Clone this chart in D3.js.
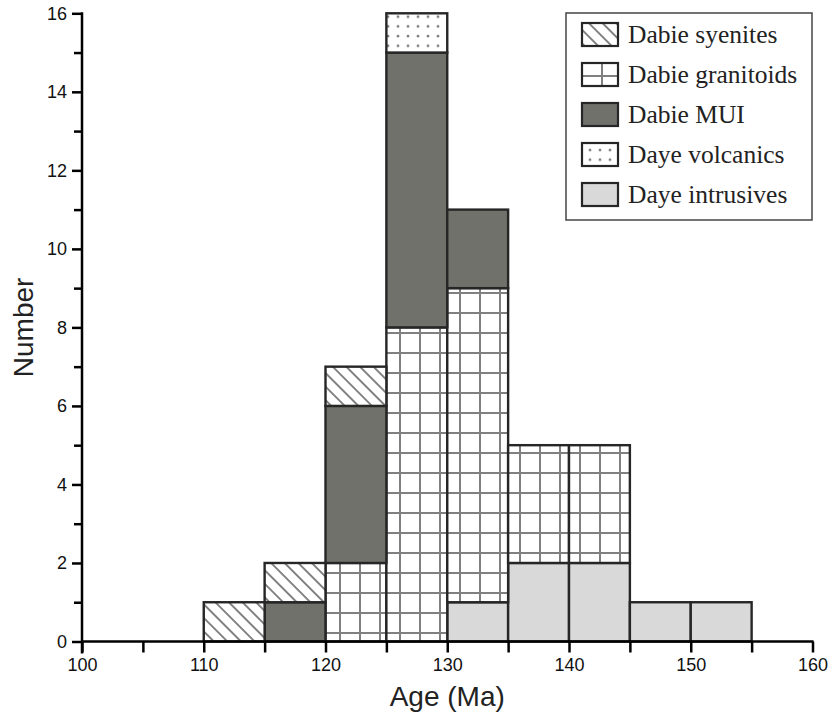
<!DOCTYPE html>
<html>
<head>
<meta charset="utf-8">
<script src="https://cdn.jsdelivr.net/npm/d3@7/dist/d3.min.js"></script>
<style>
  html, body { margin: 0; padding: 0; background: #fff; }
  svg { display: block; }
  .tick text { font-family: "Liberation Sans", Arial, sans-serif; font-size: 18px; fill: #111; }
  .title { font-family: "Liberation Sans", Arial, sans-serif; fill: #222; }
  .leg text { font-family: "Liberation Serif", "Times New Roman", serif; font-size: 25.5px; fill: #222; }
</style>
</head>
<body>
<div id="chart"></div>
<script>
// Stacked age histogram, Dabie / Daye magmatic rocks (5 Ma bins).

const binStarts = [110, 115, 120, 125, 130, 135, 140, 145, 150];
const binWidth = 5;

// counts per bin, one array per group (stack order bottom -> top)
const dayeIntrusives = [0, 0, 0, 0, 1, 2, 2, 1, 1];
const dabieGranitoids = [0, 0, 2, 8, 8, 3, 3, 0, 0];
const dabieMUI = [0, 1, 4, 7, 2, 0, 0, 0, 0];
const dabieSyenites = [1, 1, 1, 0, 0, 0, 0, 0, 0];
const dayeVolcanics = [0, 0, 0, 1, 0, 0, 0, 0, 0];

const seriesKeys = ['intrusives', 'granitoids', 'mui', 'syenites', 'volcanics'];
const seriesValues = {
  intrusives: dayeIntrusives,
  granitoids: dabieGranitoids,
  mui: dabieMUI,
  syenites: dabieSyenites,
  volcanics: dayeVolcanics,
};

// legend order (top -> bottom)
const legendKeys = ['syenites', 'granitoids', 'mui', 'volcanics', 'intrusives'];
const legendLabels = {
  syenites: 'Dabie syenites',
  granitoids: 'Dabie granitoids',
  mui: 'Dabie MUI',
  volcanics: 'Daye volcanics',
  intrusives: 'Daye intrusives',
};

const xDomain = [100, 160];
const yDomain = [0, 16];
const xMajor = [100, 110, 120, 130, 140, 150, 160];
const xMinor = [105, 115, 125, 135, 145, 155];
const yMajor = [0, 2, 4, 6, 8, 10, 12, 14, 16];
const yMinor = [1, 3, 5, 7, 9, 11, 13, 15];

const W = 830, H = 720;
const x = d3.scaleLinear().domain(xDomain).range([82, 812.5]);
const y = d3.scaleLinear().domain(yDomain).range([641.5, 13.3]);

const svg = d3.select('#chart').append('svg')
  .attr('width', W).attr('height', H)
  .attr('viewBox', `0 0 ${W} ${H}`);

// --- fill patterns
const defs = svg.append('defs');
const HATCH = '#808080';

defs.append('pattern')
  .attr('id', 'p-syenites')
  .attr('patternUnits', 'userSpaceOnUse')
  .attr('width', 40).attr('height', 9.6)
  .attr('patternTransform', 'rotate(45)')
  .append('line')
  .attr('x1', 0).attr('x2', 40).attr('y1', 4.8).attr('y2', 4.8)
  .attr('stroke', HATCH).attr('stroke-width', 1.9);

// grid: lines every 20 px, aligned at x = 580, 600, ...; y = 453, 473, ...
const grid = defs.append('pattern')
  .attr('id', 'p-granitoids')
  .attr('patternUnits', 'userSpaceOnUse')
  .attr('x', 570).attr('y', 443)
  .attr('width', 20).attr('height', 20);
grid.append('line').attr('x1', 10).attr('x2', 10).attr('y1', 0).attr('y2', 20)
  .attr('stroke', HATCH).attr('stroke-width', 2);
grid.append('line').attr('x1', 0).attr('x2', 20).attr('y1', 10).attr('y2', 10)
  .attr('stroke', HATCH).attr('stroke-width', 2);

defs.append('pattern')
  .attr('id', 'p-volcanics')
  .attr('patternUnits', 'userSpaceOnUse')
  .attr('x', 3).attr('y', 2)
  .attr('width', 10).attr('height', 9.7)
  .append('circle')
  .attr('cx', 5).attr('cy', 5).attr('r', 1.3)
  .attr('fill', '#7d7d7d');

const fills = {
  intrusives: '#d9d9d9',
  granitoids: 'url(#p-granitoids)',
  mui: '#71716c',
  syenites: 'url(#p-syenites)',
  volcanics: 'url(#p-volcanics)',
};

// --- stacked bars
const rows = binStarts.map((b, i) => {
  const r = { start: b };
  for (const k of seriesKeys) r[k] = seriesValues[k][i];
  return r;
});
const stacked = d3.stack().keys(seriesKeys)(rows);

const gBars = svg.append('g');
for (const layer of stacked) {
  const segs = layer.filter((d) => d[1] > d[0]);
  gBars.selectAll(null)
    .data(segs)
    .join('g')
    .each(function (d) {
      const g = d3.select(this);
      const x0 = x(d.data.start), x1 = x(d.data.start + binWidth);
      const attrs = (sel) => sel
        .attr('x', x0).attr('y', y(d[1]))
        .attr('width', x1 - x0).attr('height', y(d[0]) - y(d[1]));
      if (layer.key !== 'mui' && layer.key !== 'intrusives') {
        g.append('rect').call(attrs).attr('fill', '#fff');
      }
      g.append('rect').call(attrs)
        .attr('fill', fills[layer.key])
        .attr('stroke', '#262626').attr('stroke-width', 2.4);
    });
}

// --- axes
const xAxisG = svg.append('g').attr('transform', `translate(0,${y(0)})`);
xAxisG.append('g')
  .call(d3.axisBottom(x).tickValues(xMajor).tickSize(11).tickPadding(6).tickFormat(d3.format('d')))
  .call((g) => g.select('.domain').remove())
  .call((g) => g.selectAll('.tick line').attr('stroke', '#000').attr('stroke-width', 2.5));
xAxisG.append('g')
  .call(d3.axisBottom(x).tickValues(xMinor).tickSize(11).tickFormat(''))
  .call((g) => g.select('.domain').remove())
  .call((g) => g.selectAll('.tick line').attr('stroke', '#000').attr('stroke-width', 2.5));
xAxisG.append('line')
  .attr('x1', x(xDomain[0]) - 1).attr('x2', x(xDomain[1]) + 1)
  .attr('stroke', '#000').attr('stroke-width', 2.5);

const yAxisG = svg.append('g').attr('transform', `translate(${x(xDomain[0])},0)`);
yAxisG.append('g')
  .call(d3.axisLeft(y).tickValues(yMajor).tickSize(10).tickPadding(5).tickFormat(d3.format('d')))
  .call((g) => g.select('.domain').remove())
  .call((g) => g.selectAll('.tick line').attr('stroke', '#000').attr('stroke-width', 2.5));
yAxisG.append('g')
  .call(d3.axisLeft(y).tickValues(yMinor).tickSize(8).tickFormat(''))
  .call((g) => g.select('.domain').remove())
  .call((g) => g.selectAll('.tick line').attr('stroke', '#000').attr('stroke-width', 2.5));
yAxisG.append('line')
  .attr('y1', y(yDomain[0]) + 12).attr('y2', y(yDomain[1]) - 1)
  .attr('stroke', '#000').attr('stroke-width', 2.5);

// axis titles
svg.append('text').attr('class', 'title')
  .attr('x', (x(xDomain[0]) + x(xDomain[1])) / 2).attr('y', 706)
  .attr('text-anchor', 'middle').style('font-size', '28px')
  .text('Age (Ma)');
svg.append('text').attr('class', 'title')
  .attr('transform', `translate(33,${(y(0) + y(16)) / 2}) rotate(-90)`)
  .attr('text-anchor', 'middle').style('font-size', '28px')
  .text('Number');

// --- legend
const leg = svg.append('g').attr('class', 'leg');
leg.append('rect')
  .attr('x', 566).attr('y', 13).attr('width', 246).attr('height', 207)
  .attr('fill', '#fff').attr('stroke', '#444').attr('stroke-width', 1.5);
const items = leg.selectAll('g.item')
  .data(legendKeys)
  .join('g').attr('class', 'item')
  .attr('transform', (d, i) => `translate(582,${23 + i * 40})`);
items.filter((d) => d !== 'mui' && d !== 'intrusives')
  .append('rect').attr('width', 36).attr('height', 23).attr('fill', '#fff');
items.append('rect')
  .attr('width', 36).attr('height', 23)
  .attr('fill', (d) => fills[d])
  .attr('stroke', '#262626').attr('stroke-width', 2.2);
items.append('text')
  .attr('x', 46).attr('y', 20)
  .text((d) => legendLabels[d]);
</script>
</body>
</html>
